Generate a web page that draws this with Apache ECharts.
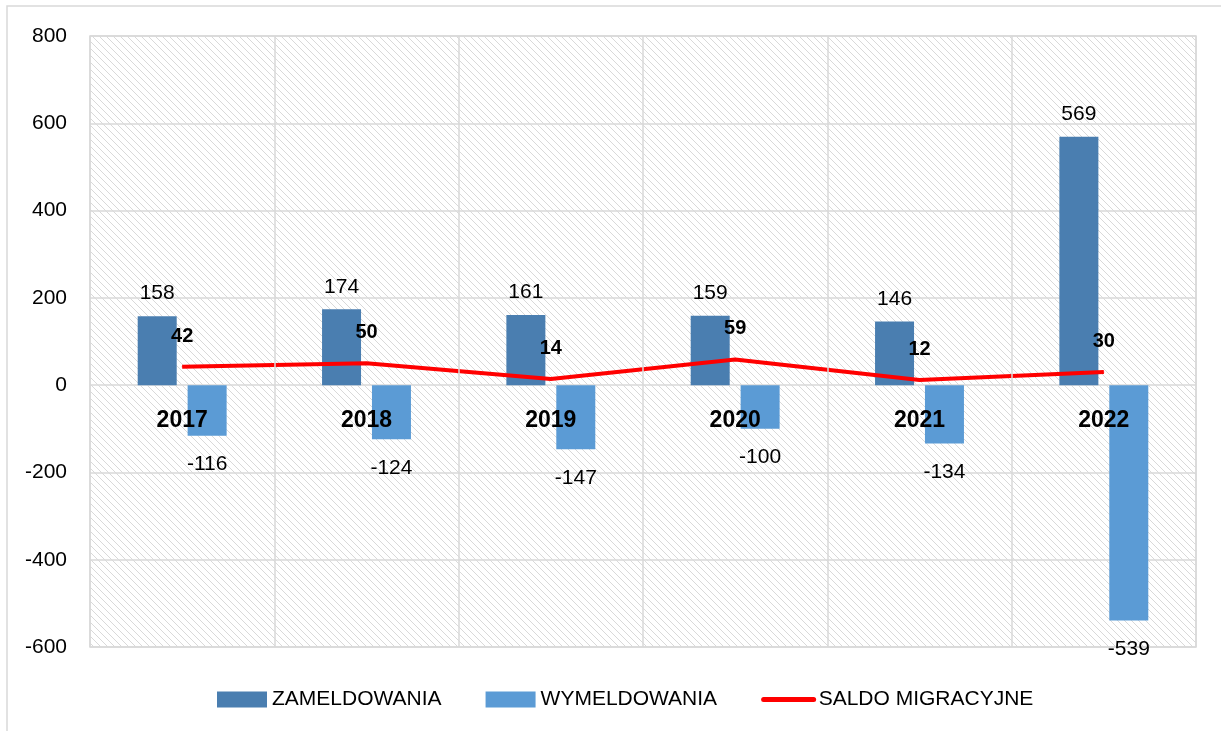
<!DOCTYPE html>
<html>
<head>
<meta charset="utf-8">
<script src="https://cdn.jsdelivr.net/npm/echarts@6/dist/echarts.min.js"></script>
<style>
  html, body { margin: 0; padding: 0; background: #fff; }
  #main { width: 1221px; height: 731px; }
</style>
</head>
<body>
<div id="main"></div>
<script>
// dane z wykresu
var years = ['2017', '2018', '2019', '2020', '2021', '2022'];
var zameldowania = [158, 174, 161, 159, 146, 569];
var wymeldowania = [-116, -124, -147, -100, -134, -539];
var saldo = [42, 50, 14, 59, 12, 30];
var yTicks = { min: -600, max: 800, step: 200 };

// tlo w ukosne kreski (jak w Excelu)
var hatch = document.createElement('canvas');
hatch.width = 7;
hatch.height = 7;
var hctx = hatch.getContext('2d');
hctx.fillStyle = '#fff';
hctx.fillRect(0, 0, 7, 7);
hctx.fillStyle = '#d9d9d9';
for (var i = 0; i < 7; i++) {
  hctx.fillRect(i, i, 1, 1);
}

var font = 'Liberation Sans';
var gridColor = '#d9d9d9';
var gridTop = 36, gridBottom = 84, chartH = 731;
// os X ma lezec na linii zera
var plotH = chartH - gridTop - gridBottom;
var zeroOffset = -plotH * (0 - yTicks.min) / (yTicks.max - yTicks.min);

var option = {
  backgroundColor: '#fff',
  textStyle: { fontFamily: font },
  graphic: [{
    type: 'rect',
    shape: { x: 7, y: 6, width: 1240, height: 760 },
    style: { fill: null, stroke: gridColor, lineWidth: 1.5 },
    silent: true
  }],
  grid: {
    left: 90, top: gridTop, right: 25, bottom: gridBottom,
    show: true,
    borderColor: gridColor,
    borderWidth: 1.5,
    backgroundColor: { image: hatch, repeat: 'repeat' }
  },
  legend: {
    bottom: 16,
    left: 212,
    itemWidth: 50,
    itemHeight: 16,
    itemGap: 44,
    textStyle: { fontSize: 21, color: '#000', fontFamily: font },
    data: [
      { name: 'ZAMELDOWANIA', icon: 'rect' },
      { name: 'WYMELDOWANIA', icon: 'rect' },
      { name: 'SALDO MIGRACYJNE', itemStyle: { opacity: 0 }, lineStyle: { width: 5, cap: 'round' } }
    ]
  },
  xAxis: {
    type: 'category',
    data: years,
    offset: zeroOffset,
    z: 10,
    axisLine: { show: false },
    axisTick: { show: false },
    axisLabel: {
      interval: 0,
      margin: 24,
      fontSize: 23,
      fontWeight: 'bold',
      color: '#000',
      fontFamily: font
    },
    splitLine: { show: true, interval: 0, lineStyle: { color: gridColor, width: 1.5 } }
  },
  yAxis: {
    type: 'value',
    min: yTicks.min,
    max: yTicks.max,
    interval: yTicks.step,
    axisLine: { show: false },
    axisTick: { show: false },
    axisLabel: { fontSize: 21, color: '#000', margin: 23, fontFamily: font },
    splitLine: { lineStyle: { color: gridColor, width: 1.5 } }
  },
  series: [
    {
      name: 'ZAMELDOWANIA',
      type: 'bar',
      data: zameldowania,
      barWidth: 39,
      barGap: '28%',
      itemStyle: { color: '#4a7eb0' },
      label: { show: true, position: 'top', distance: 12, fontSize: 21, color: '#000', fontFamily: font }
    },
    {
      name: 'WYMELDOWANIA',
      type: 'bar',
      data: wymeldowania,
      barWidth: 39,
      barGap: '28%',
      itemStyle: { color: '#5b9bd5' },
      label: { show: true, position: 'bottom', distance: 18, fontSize: 21, color: '#000', fontFamily: font }
    },
    {
      name: 'SALDO MIGRACYJNE',
      type: 'line',
      data: saldo,
      z: 5,
      symbol: 'circle',
      symbolSize: 1,
      showSymbol: true,
      itemStyle: { color: '#ff0000' },
      lineStyle: { color: '#ff0000', width: 4 },
      label: {
        show: true, position: 'top', distance: 20,
        fontSize: 20, fontWeight: 'bold', color: '#000', fontFamily: font
      }
    }
  ]
};

var myChart = echarts.init(document.getElementById('main'));
myChart.setOption(option);
</script>
</body>
</html>
